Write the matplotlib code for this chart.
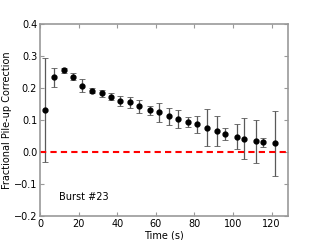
import matplotlib
matplotlib.use("Agg")
import matplotlib.pyplot as plt
import numpy as np

# Data
t = np.array([2.5, 7.2, 12.2, 17.0, 22.0, 27.0, 32.0, 36.8, 41.7, 46.7,
              51.3, 56.9, 61.7, 66.8, 71.6, 76.6, 81.6, 86.5, 91.5, 96.0,
              101.9, 105.9, 112.0, 115.8, 121.8])
frac = np.array([0.132, 0.233, 0.256, 0.235, 0.207, 0.192, 0.183, 0.172, 0.160, 0.155,
                 0.143, 0.131, 0.124, 0.112, 0.103, 0.093, 0.087, 0.076, 0.066, 0.057,
                 0.048, 0.042, 0.034, 0.031, 0.027])
err = np.array([0.163, 0.029, 0.008, 0.011, 0.020, 0.009, 0.011, 0.011, 0.015, 0.016,
                0.021, 0.014, 0.029, 0.027, 0.028, 0.015, 0.027, 0.057, 0.046, 0.019,
                0.039, 0.065, 0.067, 0.014, 0.102])

plt.rcParams['font.size'] = 7
fig = plt.figure(figsize=(3.2, 2.4), dpi=100)
ax = fig.add_axes([0.125, 0.1, 0.775, 0.8])

ax.errorbar(t, frac, yerr=err, fmt='o', color='k', ms=3.5,
            ecolor='0.35', elinewidth=0.9, capsize=2, capthick=0.6)
ax.axhline(0.0, color='red', ls='--', lw=1.5, dashes=(3, 2))
ax.text(9.8, -0.14, 'Burst #23', va='center', ha='left')

ax.set_xlim(0, 128.5)
ax.set_ylim(-0.2, 0.4)
ax.set_xticks([0, 20, 40, 60, 80, 100, 120])
ax.set_yticks([-0.2, -0.1, 0.0, 0.1, 0.2, 0.3, 0.4])
ax.set_xlabel('Time (s)', labelpad=1)
ax.set_ylabel('Fractional Pile-up Correction', labelpad=1)

for s in ax.spines.values():
    s.set_color('0.6')
    s.set_linewidth(1.2)
ax.tick_params(direction='in', top=True, right=True, color='0.6',
               length=3, pad=2)

fig.savefig('out.png', dpi=100)
